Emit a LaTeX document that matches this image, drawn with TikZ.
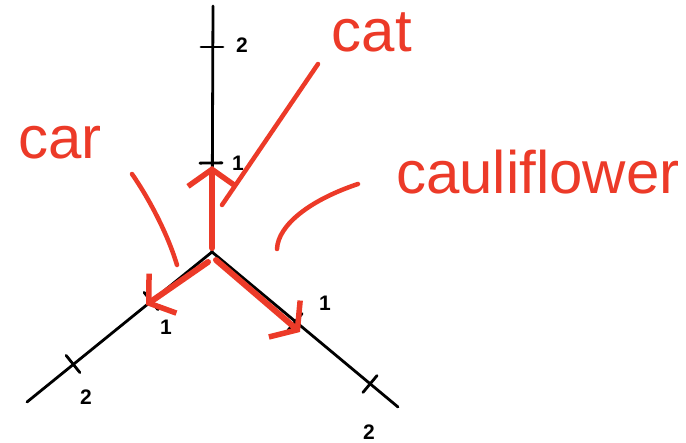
\documentclass[tikz,border=0pt]{standalone}
\usepackage{fontspec}
\setmainfont{Liberation Sans}
\usetikzlibrary{arrows.meta,calc}
\definecolor{sketchred}{RGB}{236,58,40}
\tikzset{
  axis/.style={line width=2.8pt,black,line cap=round},
  tick/.style={line width=2.8pt,black,line cap=round},
  vec/.style={line width=6pt,sketchred,line cap=round,-{Straight Barb[length=17pt,width=48pt,line width=5.5pt]}},
  pointer/.style={line width=4.5pt,sketchred,line cap=round},
  word/.style={text=sketchred,font=\fontsize{60}{62}\selectfont,inner sep=0pt},
  num/.style={text=black,font=\fontsize{21}{23}\selectfont\bfseries,inner sep=0pt}
}
\begin{document}
\begin{tikzpicture}[x=1pt,y=-1pt]
\useasboundingbox (0,0) rectangle (686,443);
% axis geometry
\coordinate (O) at (212,252);
\coordinate (vtop) at (213,6);
\coordinate (lend) at (27,402);
\coordinate (rend) at (398,407);
\coordinate (v1) at (211,163);
\coordinate (v2) at (212,47);
\coordinate (l1) at (151,301);
\coordinate (l2) at (73,364);
\coordinate (r1) at (295,322);
\coordinate (r2) at (370,384);
% axes
\draw[axis] (O) -- (vtop);
\draw[axis] (O) -- (lend);
\draw[axis] (O) -- (rend);
% ticks
\foreach \t in {v1,v2,l1,l2,r1,r2}
  \draw[tick] ($(\t)!11pt!90:(O)$) -- ($(\t)!11pt!-90:(O)$);
% tick labels
\node[num] (nv1) at (238,163) {1};
\node[num] (nv2) at (242,45) {2};
\node[num] (nl1) at (166,327) {1};
\node[num] (nl2) at (86,397) {2};
\node[num] (nr1) at (325,303) {1};
\node[num] (nr2) at (369,432) {2};
% red vectors
\coordinate (a0) at (212,248);
\coordinate (a1) at (212,166);
\coordinate (b0) at (208,262);
\coordinate (b1) at (146,305);
\coordinate (c0) at (216,260);
\coordinate (c1) at (300,332);
\draw[vec] (a0) -- (a1);
\draw[vec] (b0) -- (b1);
\draw[vec] (c0) -- (c1);
% labels
\node[word] (cat) at (372,32) {cat};
\node[word] (car) at (60,143) {car};
\node[word] (caul) at (538,172) {cauliflower};
% pointers
\coordinate (pcat0) at (318,64);
\coordinate (pcat1) at (222,205);
\coordinate (pcar0) at (132,174);
\coordinate (pcar1) at (177,265);
\coordinate (pcau0) at (358,184);
\coordinate (pcau1) at (277,249);
\draw[pointer] (pcat0) -- (pcat1);
\draw[pointer] (pcar0) .. controls (150,200) and (168,235) .. (pcar1);
\draw[pointer] (pcau0) .. controls (310,200) and (278,225) .. (pcau1);
\end{tikzpicture}
\end{document}
